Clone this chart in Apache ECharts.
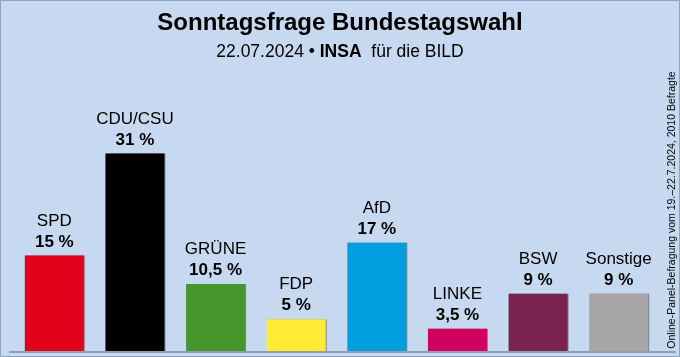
<!DOCTYPE html>
<html>
<head>
<meta charset="utf-8">
<script src="https://cdn.jsdelivr.net/npm/echarts@6/dist/echarts.min.js"></script>
<style>
html,body{margin:0;padding:0;background:#c6d9f0;}
#chart{width:680px;height:357px;}
</style>
</head>
<body>
<div id="chart"></div>
<script>
const titleText = 'Sonntagsfrage Bundestagswahl';
const subDate = '22.07.2024 • ';
const subInstitute = 'INSA';
const subClient = ' für die BILD';
const sideNote = 'Online-Panel-Befragung vom 19.–22.7.2024, 2010 Befragte';
const parties = ['SPD', 'CDU/CSU', 'GRÜNE', 'FDP', 'AfD', 'LINKE', 'BSW', 'Sonstige'];
const values = [15, 31, 10.5, 5, 17, 3.5, 9, 9];
const colors = ['#e3001b', '#000000', '#47962d', '#ffeb33', '#019ee0', '#d2005f', '#7a2350', '#a6a6a6'];

const chart = echarts.init(document.getElementById('chart'));
const fmt = v => String(v).replace('.', ',') + ' %';

chart.setOption({
  backgroundColor: '#c6d9f0',
  animation: false,
  title: [
    {
      text: titleText,
      left: 'center',
      top: 6,
      textStyle: { fontFamily: 'Liberation Sans', fontSize: 24, fontWeight: 'bold', color: '#000' }
    },
    {
      text: subDate + '{b|' + subInstitute + '} ' + subClient,
      left: 'center',
      top: 38,
      textStyle: {
        fontFamily: 'Liberation Sans', fontSize: 17.5, fontWeight: 'normal', color: '#000',
        rich: { b: { fontFamily: 'Liberation Sans', fontSize: 17.5, fontWeight: 'bold', color: '#000' } }
      }
    }
  ],
  grid: { left: 14, right: 21, top: 128, bottom: 6 },
  xAxis: {
    type: 'category',
    data: parties,
    axisLine: { show: false },
    axisTick: { show: false },
    axisLabel: { show: false }
  },
  yAxis: { type: 'value', min: 0, max: 35, show: false, splitLine: { show: false } },
  series: [{
    type: 'bar',
    barWidth: 59,
    data: values.map((v, i) => ({
      value: v,
      itemStyle: { color: colors[i], shadowColor: 'rgba(80,80,80,0.6)', shadowOffsetX: 1, shadowBlur: 0 }
    })),
    label: {
      show: true,
      position: 'top',
      distance: 3,
      formatter: p => '{n|' + p.name + '}\n{v|' + fmt(p.value) + '}',
      rich: {
        n: { fontFamily: 'Liberation Sans', fontSize: 17, color: '#000', lineHeight: 21, align: 'center' },
        v: { fontFamily: 'Liberation Sans', fontSize: 17, fontWeight: 'bold', color: '#000', lineHeight: 21, align: 'center' }
      }
    }
  }],
  graphic: [
    {
      type: 'rect',
      shape: { x: 0.5, y: 0.5, width: 679, height: 356 },
      style: { fill: 'none', stroke: '#8ea3bf', lineWidth: 1 },
      silent: true
    },
    {
      type: 'line',
      shape: { x1: 9, y1: 352, x2: 676, y2: 352 },
      style: { stroke: '#7d8b9b', lineWidth: 1.5 },
      silent: true
    },
    {
      type: 'text',
      x: 672.5,
      y: 210,
      rotation: Math.PI / 2,
      style: {
        text: sideNote,
        fontFamily: 'Liberation Sans',
        fontSize: 10.5,
        fill: '#000',
        align: 'center',
        verticalAlign: 'middle'
      },
      silent: true
    }
  ]
});
</script>
</body>
</html>
